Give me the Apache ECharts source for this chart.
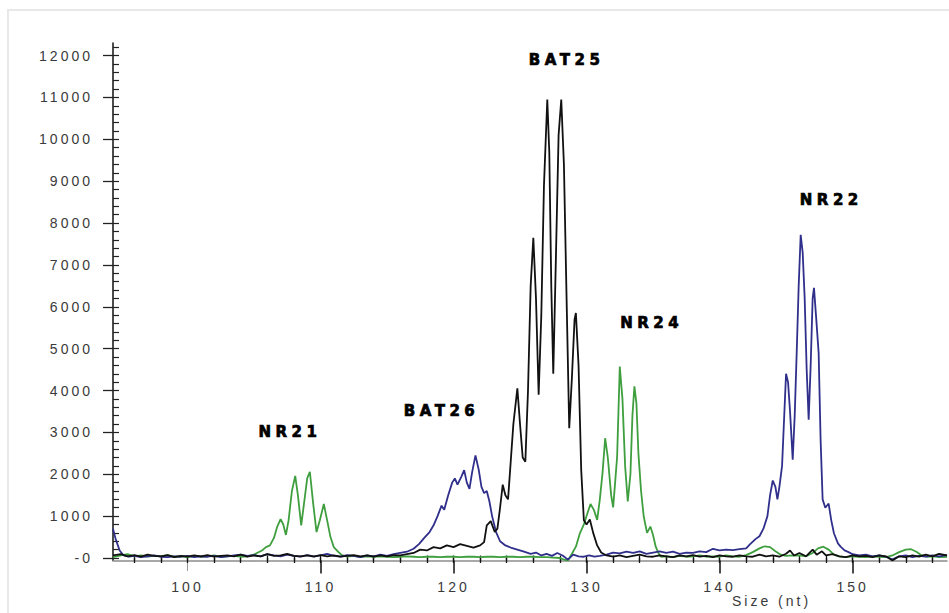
<!DOCTYPE html>
<html><head><meta charset="utf-8">
<script src="https://cdn.jsdelivr.net/npm/echarts@6/dist/echarts.min.js"></script>
<style>
html,body{margin:0;padding:0;background:#fff;}
#chart{width:949px;height:613px;}
#chart text[style*="Liberation"]{letter-spacing:3px;}
#chart text[style*="DejaVu"]{letter-spacing:4.5px;}
</style></head><body><div id="chart"></div>
<script>
// ---- data (size in nt, signal in RFU) ----
const greenTrace = [
[94.4,20],[95,60],[95.5,90],[96,40],[96.5,60],[97,30],[97.5,50],[98,40],[98.5,70],[99,30],[99.5,40],[100,20],[100.5,50],[101,30],[101.5,40],[102,60],[102.5,30],[103,40],[103.5,50],[104,30],[104.5,40],[105,80],[105.3,130],[105.6,180],[105.9,260],[106.2,300],[106.5,480],[106.75,750],[107.0,930],[107.2,800],[107.4,550],[107.6,900],[107.85,1600],[108.1,1960],[108.3,1500],[108.55,780],[108.8,1400],[109.0,1900],[109.2,2060],[109.45,1300],[109.7,620],[109.95,900],[110.25,1290],[110.5,900],[110.75,500],[111.0,260],[111.3,160],[111.6,70],[112,30],[112.5,50],[113,20],[113.5,40],[114,30],[114.5,40],[115,30],[115.5,20],[116,30],[116.5,40],[117,30],[117.5,20],[118,30],[118.5,30],[119,20],[119.5,30],[120,30],[120.5,20],[121,30],[121.5,30],[122,20],[122.5,30],[123,30],[123.5,20],[124,30],[124.5,30],[125,20],[125.5,30],[126,30],[126.5,20],[127,20],[127.5,10],[128,0],[128.3,-40],[128.6,-60],[128.9,100],[129.2,270],[129.5,590],[129.8,800],[130.05,1050],[130.3,1290],[130.55,1150],[130.8,910],[131.0,1400],[131.2,2020],[131.4,2860],[131.6,2400],[131.85,1500],[132.0,1210],[132.15,1800],[132.3,2420],[132.5,4570],[132.7,3800],[132.9,2200],[133.1,1350],[133.3,2000],[133.45,3400],[133.6,4100],[133.75,3700],[133.9,2500],[134.1,1600],[134.3,990],[134.55,600],[134.8,750],[135.0,550],[135.2,270],[135.4,120],[135.6,30],[136,40],[136.5,20],[137,50],[137.5,30],[138,40],[138.5,60],[139,30],[139.5,40],[140,30],[140.5,60],[141,40],[141.5,30],[142,70],[142.5,140],[143,230],[143.4,280],[143.8,260],[144.2,160],[144.6,80],[145,50],[145.5,60],[146,60],[146.5,40],[147,120],[147.4,230],[147.8,270],[148.2,200],[148.6,80],[149,40],[149.5,20],[150,40],[150.5,30],[151,20],[151.5,40],[152,30],[152.5,20],[153,60],[153.5,140],[154,200],[154.4,210],[154.8,150],[155.2,60],[155.6,30],[156,40],[156.5,20],[157.1,30]
];
const blueTrace = [
[94.4,700],[94.6,450],[94.9,180],[95.2,60],[95.6,30],[96,50],[96.5,20],[97,40],[97.5,60],[98,30],[98.5,20],[99,40],[99.5,30],[100,50],[100.5,20],[101,40],[101.5,30],[102,50],[102.5,20],[103,40],[103.5,60],[104,80],[104.5,50],[105,70],[105.5,40],[106,90],[106.5,60],[107,40],[107.5,80],[108,50],[108.5,30],[109,70],[109.5,40],[110,60],[110.5,100],[111,50],[111.5,30],[112,70],[112.5,50],[113,20],[113.5,60],[114,40],[114.5,80],[115,50],[115.5,90],[116,120],[116.5,150],[117,220],[117.4,330],[117.8,480],[118.2,620],[118.5,780],[118.8,1000],[119.1,1250],[119.3,1150],[119.6,1500],[119.9,1800],[120.1,1900],[120.3,1750],[120.6,1950],[120.8,2100],[121.0,1800],[121.2,1650],[121.4,2050],[121.65,2450],[121.9,2100],[122.1,1700],[122.3,1550],[122.5,1600],[122.7,1350],[122.9,1000],[123.2,620],[123.5,400],[123.9,300],[124.3,250],[124.8,200],[125.3,150],[125.8,100],[126.2,130],[126.6,60],[127,100],[127.4,50],[127.8,120],[128.2,60],[128.6,-40],[129,80],[129.4,40],[129.8,30],[130.2,60],[130.6,30],[131,50],[131.5,80],[132,130],[132.5,110],[133,150],[133.5,120],[134,160],[134.5,100],[135,130],[135.5,160],[136,120],[136.5,150],[137,100],[137.5,130],[138,120],[138.5,160],[139,140],[139.5,220],[140,180],[140.5,200],[141,190],[141.5,210],[142,230],[142.3,330],[142.7,450],[143.0,520],[143.3,700],[143.6,1000],[143.8,1500],[144.0,1850],[144.2,1700],[144.35,1400],[144.5,1700],[144.7,2200],[144.85,3300],[145.0,4400],[145.15,4200],[145.3,3500],[145.5,2350],[145.65,3400],[145.8,4900],[145.95,6500],[146.1,7720],[146.25,7300],[146.4,6200],[146.55,4500],[146.7,3300],[146.85,4600],[147.0,6200],[147.1,6450],[147.25,5800],[147.45,4900],[147.6,2800],[147.75,1400],[147.95,1200],[148.2,1300],[148.4,900],[148.6,590],[148.9,350],[149.1,270],[149.4,180],[149.7,140],[150,90],[150.5,60],[151,80],[151.5,40],[152,60],[152.5,30],[153,-30],[153.5,40],[154,60],[154.5,20],[155,50],[155.5,30],[156,60],[156.5,40],[157.1,70]
];
const blackTrace = [
[94.4,60],[95,90],[95.5,40],[96,70],[96.5,30],[97,80],[97.5,50],[98,40],[98.5,70],[99,20],[99.5,50],[100,30],[100.5,60],[101,40],[101.5,70],[102,30],[102.5,50],[103,60],[103.5,40],[104,80],[104.5,30],[105,60],[105.5,40],[106,90],[106.5,50],[107,60],[107.5,100],[108,50],[108.5,40],[109,60],[109.5,30],[110,70],[110.5,40],[111,60],[111.5,30],[112,50],[112.5,70],[113,40],[113.5,60],[114,30],[114.5,60],[115,40],[115.5,70],[116,60],[116.5,90],[117,120],[117.5,200],[118,180],[118.5,260],[119,230],[119.5,300],[120,260],[120.5,330],[121,290],[121.5,250],[122,300],[122.3,380],[122.5,780],[122.8,880],[123.1,620],[123.3,700],[123.5,1200],[123.7,1750],[123.9,1500],[124.1,1400],[124.3,2300],[124.5,3200],[124.8,4050],[125.0,3200],[125.2,2400],[125.4,2300],[125.6,4000],[125.8,6500],[126.0,7650],[126.2,6200],[126.4,3900],[126.6,5800],[126.8,8900],[127.05,10950],[127.2,9700],[127.35,6500],[127.5,4400],[127.7,7200],[127.9,10100],[128.1,10950],[128.3,9400],[128.5,6200],[128.7,3100],[128.9,4300],[129.1,5700],[129.2,5850],[129.4,4600],[129.6,2100],[129.8,900],[130.0,800],[130.25,920],[130.5,600],[130.8,300],[131.1,130],[131.5,60],[132,30],[132.5,60],[133,20],[133.5,50],[134,80],[134.5,40],[135,30],[135.5,60],[136,40],[136.5,20],[137,60],[137.5,40],[138,70],[138.5,30],[139,50],[139.5,20],[140,60],[140.5,40],[141,30],[141.5,60],[142,40],[142.5,30],[143,80],[143.5,40],[144,60],[144.5,30],[145,100],[145.3,180],[145.6,60],[146,120],[146.5,40],[147,200],[147.3,80],[147.7,160],[148,60],[148.5,90],[149,40],[149.5,20],[150,60],[150.5,40],[151,50],[151.5,20],[152,60],[152.5,40],[153,-60],[153.5,40],[154,20],[154.5,60],[155,30],[155.5,80],[156,40],[156.5,100],[157.1,60]
];
const yTickValues = [0,1000,2000,3000,4000,5000,6000,7000,8000,9000,10000,11000,12000];
const yTickLabels = ['-0','1000','2000','3000','4000','5000','6000','7000','8000','9000','10000','11000','12000'];
const xTickValues = [100,110,120,130,140,150];
const xTickLabels = ['100','110','120','130','140','150'];
const peakNames = ['NR21','BAT26','BAT25','NR24','NR22'];
const peakLabelX = [107.7,119.1,128.5,134.9,148.4];
const peakLabelY = [3010,3510,11890,5610,8550];
const xAxisTitle = 'Size (nt)';

// ---- chart ----
const X_MIN = 94.4, X_MAX = 157.1, Y_MIN = -60, Y_MAX = 12300;
const yMinor = []; for (let v = 0; v <= 12200; v += 200) yMinor.push(v);
const xMinor = []; for (let v = 96; v <= 156; v += 2) xMinor.push(v);
const xMajorDark = xTickValues.filter(v => v !== 100);

const chart = echarts.init(document.getElementById('chart'), null, {renderer: 'svg'});
const baseX = {type: 'value', min: X_MIN, max: X_MAX, position: 'bottom', splitLine: {show: false}};
const baseY = {type: 'value', min: Y_MIN, max: Y_MAX, position: 'left', splitLine: {show: false}};
chart.setOption({
  animation: false,
  backgroundColor: '#ffffff',
  grid: {left: 113, right: 2, top: 43, bottom: 52.5, containLabel: false},
  xAxis: [
    Object.assign({}, baseX, {
      axisLine: {show: true, onZero: false, lineStyle: {color: '#8c8c8c', width: 1.5}},
      axisTick: {show: true, customValues: xMajorDark, length: 13, lineStyle: {color: '#111', width: 1.5}},
      axisLabel: {show: true, customValues: xTickValues, margin: 19, fontSize: 14, fontFamily: 'Liberation Sans', color: '#3a3a3a',
        formatter: v => xTickLabels[xTickValues.indexOf(v)]}
    }),
    Object.assign({}, baseX, {
      axisLine: {show: false},
      axisTick: {show: true, customValues: [100], length: 13, lineStyle: {color: '#999', width: 1}},
      axisLabel: {show: false}
    }),
    Object.assign({}, baseX, {
      axisLine: {show: false},
      axisTick: {show: true, customValues: xMinor, length: 5, lineStyle: {color: '#111', width: 1.3}},
      axisLabel: {show: false}
    }),
    Object.assign({}, baseX, {
      axisLine: {show: false},
      axisTick: {show: true, inside: true, customValues: xMinor, length: 5, lineStyle: {color: '#111', width: 1.3}},
      axisLabel: {show: false}
    })
  ],
  yAxis: [
    Object.assign({}, baseY, {
      axisLine: {show: true, onZero: false, lineStyle: {color: '#111', width: 1.5}},
      axisTick: {show: true, customValues: yTickValues, length: 10, lineStyle: {color: '#222', width: 1.3}},
      axisLabel: {show: true, customValues: yTickValues, margin: 20, fontSize: 14, fontFamily: 'Liberation Sans', color: '#3a3a3a',
        formatter: v => yTickLabels[yTickValues.indexOf(v)]}
    }),
    Object.assign({}, baseY, {
      axisLine: {show: false},
      axisTick: {show: true, inside: true, customValues: yMinor, length: 6, lineStyle: {color: '#222', width: 1.2}},
      axisLabel: {show: false}
    })
  ],
  series: [
    {type: 'line', name: 'green', data: greenTrace, showSymbol: false, symbol: 'none', lineStyle: {color: '#3f9f3f', width: 1.8}, z: 2},
    {type: 'line', name: 'blue', data: blueTrace, showSymbol: false, symbol: 'none', lineStyle: {color: '#30308c', width: 1.8}, z: 3},
    {type: 'line', name: 'black', data: blackTrace, showSymbol: false, symbol: 'none', lineStyle: {color: '#111111', width: 1.8}, z: 4},
    {type: 'scatter', name: 'labels', silent: true, symbolSize: 1, itemStyle: {color: 'rgba(0,0,0,0)'}, z: 5,
      data: peakNames.map((n, i) => ({name: n, value: [peakLabelX[i], peakLabelY[i]]})),
      labelLayout: {hideOverlap: false},
      label: {show: true, position: 'inside', formatter: p => p.name, fontFamily: 'DejaVu Sans', fontWeight: 'bold', fontSize: 15, color: '#000', opacity: 1,
        textBorderColor: '#000', textBorderWidth: 0.7}}
  ],
  graphic: [
    {type: 'rect', z: -1, silent: true, shape: {x: 8, y: 10, width: 960, height: 620}, style: {fill: 'none', stroke: '#e8e8e8', lineWidth: 2}},
    {type: 'text', left: 732, top: 594, silent: true, style: {text: xAxisTitle, fontSize: 14, fontFamily: 'Liberation Sans', fill: '#3a3a3a'}}
  ]
});
</script></body></html>
